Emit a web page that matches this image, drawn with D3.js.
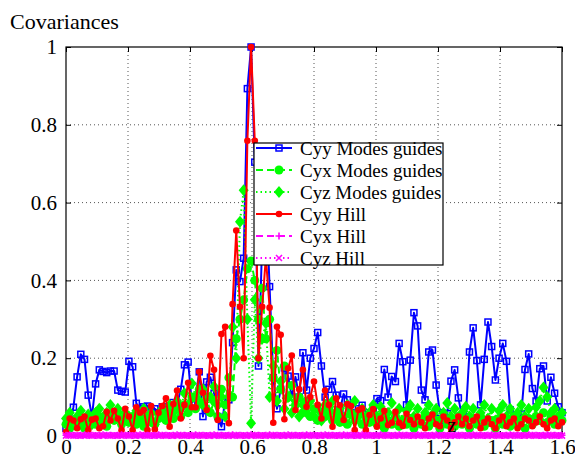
<!DOCTYPE html>
<html><head><meta charset="utf-8">
<script src="https://cdn.jsdelivr.net/npm/d3@7"></script>
<style>body{margin:0;background:#fff}svg{display:block}
svg text{font-family:"Liberation Serif","Times New Roman",Times,"DejaVu Serif",serif;}</style>
</head><body>
<svg id="c" width="575" height="462"></svg>
<script>
// ---- data ----
const xStart = 0, xEnd = 1.6, nPts = 135;   // sampling grid along z
const xTickValues = [0,0.2,0.4,0.6,0.8,1,1.2,1.4,1.6];
const xTickLabels = ["0","0.2","0.4","0.6","0.8","1","1.2","1.4","1.6"];
const yTickValues = [0,0.2,0.4,0.6,0.8,1];
const yTickLabels = ["0","0.2","0.4","0.6","0.8","1"];
const seriesNames = ["Cyy Modes guides","Cyx Modes guides","Cyz Modes guides","Cyy Hill","Cyx Hill","Cyz Hill"];

const cyyModes = [0.02,0.03,0.074,0.152,0.21,0.197,0.105,0.05,0.134,0.17,0.166,0.163,0.167,0.167,0.118,0.115,0.113,0.192,0.178,0.084,
0.07,0.075,0.077,0.065,0.07,0.06,0.075,0.065,0.07,0.086,0.08,0.12,0.183,0.19,0.085,0.1,0.165,0.05,0.139,0.151,
0.11,0.05,0.024,0.093,0.093,0.24,0.427,0.397,0.457,0.893,1.0,0.704,0.18,0.5,0.62,0.384,0.15,0.07,0.12,0.175,
0.154,0.1,0.152,0.1,0.214,0.118,0.2,0.225,0.266,0.18,0.1,0.12,0.14,0.105,0.067,0.108,0.093,0.06,0.05,0.07,
0.079,0.06,0.05,0.07,0.096,0.091,0.171,0.1,0.153,0.14,0.238,0.191,0.08,0.195,0.317,0.283,0.118,0.093,0.216,0.221,
0.131,0.06,0.04,0.058,0.141,0.17,0.098,0.05,0.05,0.216,0.278,0.194,0.08,0.197,0.293,0.23,0.144,0.2,0.238,0.192,
0.067,0.05,0.05,0.057,0.171,0.211,0.122,0.09,0.173,0.18,0.09,0.151,0.11,0.075,0.06];

const cyxModes = [0.03,0.02,0.04,0.025,0.035,0.02,0.03,0.045,0.03,0.05,0.035,0.025,0.055,0.04,0.06,0.03,0.045,0.035,0.05,0.03,
0.04,0.025,0.05,0.035,0.03,0.045,0.055,0.04,0.06,0.045,0.07,0.05,0.08,0.06,0.1,0.07,0.12,0.08,0.1,0.06,
0.09,0.05,0.12,0.08,0.15,0.1,0.25,0.3,0.35,0.43,0.45,0.4,0.3,0.38,0.25,0.3,0.15,0.22,0.12,0.18,
0.1,0.13,0.08,0.1,0.06,0.09,0.05,0.07,0.04,0.06,0.05,0.07,0.04,0.06,0.035,0.05,0.03,0.055,0.04,0.06,
0.03,0.05,0.035,0.045,0.03,0.05,0.02,0.04,0.03,0.05,0.025,0.04,0.03,0.045,0.02,0.04,0.03,0.05,0.025,0.035,
0.04,0.02,0.045,0.03,0.04,0.025,0.05,0.03,0.04,0.02,0.045,0.03,0.05,0.025,0.035,0.04,0.02,0.045,0.03,0.04,
0.025,0.05,0.03,0.04,0.02,0.045,0.03,0.05,0.04,0.06,0.035,0.05,0.03,0.045,0.04];

const cyzModes = [0.045,0.06,0.03,0.05,0.065,0.04,0.055,0.03,0.06,0.07,0.045,0.06,0.08,0.05,0.07,0.04,0.06,0.05,0.035,0.065,
0.05,0.07,0.04,0.06,0.03,0.055,0.07,0.05,0.08,0.06,0.09,0.07,0.11,0.08,0.135,0.1,0.09,0.12,0.07,0.1,
0.127,0.08,0.1,0.05,0.1,0.28,0.2,0.551,0.632,0.3,0.033,0.35,0.2,0.25,0.29,0.1,0.18,0.09,0.14,0.07,
0.1,0.06,0.09,0.05,0.08,0.06,0.09,0.05,0.07,0.04,0.08,0.06,0.09,0.05,0.07,0.04,0.08,0.06,0.09,0.05,
0.07,0.04,0.06,0.08,0.05,0.075,0.035,0.06,0.085,0.05,0.07,0.04,0.065,0.08,0.05,0.07,0.035,0.06,0.08,0.055,
0.07,0.04,0.06,0.085,0.05,0.07,0.04,0.06,0.075,0.05,0.07,0.04,0.06,0.08,0.045,0.07,0.04,0.065,0.08,0.05,
0.07,0.035,0.06,0.08,0.05,0.07,0.04,0.074,0.09,0.125,0.1,0.06,0.07,0.05,0.06];

const cyyHill = [0.01,0.045,0.04,0.02,0.043,0.05,0.015,0.042,0.045,0.02,0.025,0.062,0.04,0.065,0.045,0.015,0.07,0.05,0.015,0.074,
0.06,0.067,0.015,0.077,0.017,0.06,0.077,0.097,0.024,0.082,0.117,0.045,0.08,0.137,0.074,0.074,0.165,0.111,0.067,0.206,
0.17,0.041,0.262,0.281,0.033,0.339,0.528,0.332,0.2,0.759,1.0,0.759,0.2,0.332,0.46,0.33,0.034,0.281,0.26,0.043,
0.174,0.207,0.067,0.12,0.17,0.075,0.1,0.14,0.08,0.045,0.117,0.08,0.024,0.097,0.079,0.041,0.082,0.077,0.015,0.067,
0.071,0.015,0.054,0.069,0.024,0.045,0.065,0.028,0.034,0.062,0.034,0.026,0.057,0.041,0.03,0.05,0.035,0.02,0.045,0.055,
0.03,0.025,0.05,0.04,0.02,0.035,0.05,0.03,0.045,0.025,0.04,0.05,0.02,0.035,0.045,0.03,0.02,0.04,0.05,0.025,
0.035,0.045,0.02,0.03,0.045,0.04,0.025,0.035,0.05,0.03,0.02,0.04,0.045,0.025,0.035];

const cyxHill = [0.002,0.003,0.002,0.001,0.002,0.003,0.002,0.002,0.001,0.002,0.003,0.002,0.002,0.001,0.002,0.003,0.002,0.002,0.001,0.002,
0.003,0.002,0.002,0.001,0.002,0.003,0.002,0.002,0.001,0.002,0.003,0.002,0.002,0.001,0.002,0.003,0.002,0.002,0.001,0.002,
0.003,0.002,0.002,0.001,0.002,0.003,0.002,0.002,0.001,0.002,0.003,0.002,0.002,0.001,0.002,0.003,0.002,0.002,0.001,0.002,
0.003,0.002,0.002,0.001,0.002,0.003,0.002,0.002,0.001,0.002,0.003,0.002,0.002,0.001,0.002,0.003,0.002,0.002,0.001,0.002,
0.003,0.002,0.002,0.001,0.002,0.003,0.002,0.002,0.001,0.002,0.003,0.002,0.002,0.001,0.002,0.003,0.002,0.002,0.001,0.002,
0.003,0.002,0.002,0.001,0.002,0.003,0.002,0.002,0.001,0.002,0.003,0.002,0.002,0.001,0.002,0.003,0.002,0.002,0.001,0.002,
0.003,0.002,0.002,0.001,0.002,0.003,0.002,0.002,0.001,0.002,0.003,0.002,0.002,0.001,0.002];

const cyzHill = [0.001,0.002,0.001,0.002,0.001,0.001,0.002,0.001,0.002,0.001,0.001,0.002,0.001,0.002,0.001,0.001,0.002,0.001,0.002,0.001,
0.001,0.002,0.001,0.002,0.001,0.001,0.002,0.001,0.002,0.001,0.001,0.002,0.001,0.002,0.001,0.001,0.002,0.001,0.002,0.001,
0.001,0.002,0.001,0.002,0.001,0.001,0.002,0.001,0.002,0.001,0.001,0.002,0.001,0.002,0.001,0.001,0.002,0.001,0.002,0.001,
0.001,0.002,0.001,0.002,0.001,0.001,0.002,0.001,0.002,0.001,0.001,0.002,0.001,0.002,0.001,0.001,0.002,0.001,0.002,0.001,
0.001,0.002,0.001,0.002,0.001,0.001,0.002,0.001,0.002,0.001,0.001,0.002,0.001,0.002,0.001,0.001,0.002,0.001,0.002,0.001,
0.001,0.002,0.001,0.002,0.001,0.001,0.002,0.001,0.002,0.001,0.001,0.002,0.001,0.002,0.001,0.001,0.002,0.001,0.002,0.001,
0.001,0.002,0.001,0.002,0.001,0.001,0.002,0.001,0.002,0.001,0.001,0.002,0.001,0.002,0.001];

// ---- drawing ----
const svg = d3.select("#c");
const font = '"Liberation Serif","Times New Roman",Times,"DejaVu Serif",serif';
const L = 66, R = 562, T = 47, B = 436;
const x = d3.scaleLinear().domain([xStart, xEnd]).range([L, R]);
const y = d3.scaleLinear().domain([0, 1]).range([B, T]);
const zs = d3.range(nPts).map(i => xStart + i * (xEnd - xStart) / (nPts - 1));

// grid
const grid = svg.append("g").attr("stroke", "#555").attr("stroke-width", 1).attr("stroke-dasharray", "1,3");
xTickValues.slice(1, -1).forEach(v => grid.append("line").attr("x1", x(v)).attr("x2", x(v)).attr("y1", T).attr("y2", B));
yTickValues.slice(1, -1).forEach(v => grid.append("line").attr("y1", y(v)).attr("y2", y(v)).attr("x1", L).attr("x2", R));

// axes with inward ticks
const fmtX = (d, i) => xTickLabels[i], fmtY = (d, i) => yTickLabels[i];
const gx = svg.append("g").attr("transform", `translate(0,${B})`)
  .call(d3.axisBottom(x).tickValues(xTickValues).tickFormat(fmtX).tickSize(-5).tickPadding(4));
const gxt = svg.append("g").attr("transform", `translate(0,${T})`)
  .call(d3.axisTop(x).tickValues(xTickValues).tickFormat("").tickSize(-5));
const gy = svg.append("g").attr("transform", `translate(${L},0)`)
  .call(d3.axisLeft(y).tickValues(yTickValues).tickFormat(fmtY).tickSize(-5).tickPadding(9));
const gyr = svg.append("g").attr("transform", `translate(${R},0)`)
  .call(d3.axisRight(y).tickValues(yTickValues).tickFormat("").tickSize(-5));
[gx, gxt, gy, gyr].forEach(g => {
  g.attr("font-family", null);
  g.select(".domain").remove();
  g.selectAll("line").attr("stroke", "#000");
  g.selectAll("text").style("font-family", font).attr("font-size", 21).attr("fill", "#000");
});
gx.selectAll("text").attr("dy", "0.68em");
svg.append("rect").attr("x", L).attr("y", T).attr("width", R - L).attr("height", B - T)
  .attr("fill", "none").attr("stroke", "#000").attr("stroke-width", 1.2);

// series
const series = [
  {name: seriesNames[0], data: cyyModes, color: "#0000ff", dash: null, marker: "square"},
  {name: seriesNames[1], data: cyxModes, color: "#00ff00", dash: "7,4", marker: "circle"},
  {name: seriesNames[2], data: cyzModes, color: "#00ff00", dash: "1.5,3", marker: "diamond"},
  {name: seriesNames[3], data: cyyHill, color: "#ff0000", dash: null, marker: "dot"},
  {name: seriesNames[4], data: cyxHill, color: "#ff00ff", dash: "7,4", marker: "plus"},
  {name: seriesNames[5], data: cyzHill, color: "#ff00ff", dash: "1.5,3", marker: "cross"}
];

function drawMarker(g, type, cx, cy, color) {
  if (type === "square") {
    g.append("rect").attr("x", cx - 3).attr("y", cy - 3).attr("width", 6).attr("height", 6)
      .attr("fill", "none").attr("stroke", color).attr("stroke-width", 1.5);
  } else if (type === "circle") {
    g.append("circle").attr("cx", cx).attr("cy", cy).attr("r", 4.5).attr("fill", color);
  } else if (type === "diamond") {
    g.append("path").attr("d", `M${cx},${cy - 6}L${cx + 5},${cy}L${cx},${cy + 6}L${cx - 5},${cy}Z`).attr("fill", color);
  } else if (type === "dot") {
    g.append("circle").attr("cx", cx).attr("cy", cy).attr("r", 3.3).attr("fill", color);
  } else if (type === "plus") {
    g.append("path").attr("d", `M${cx - 3.5},${cy}H${cx + 3.5}M${cx},${cy - 3.5}V${cy + 3.5}`)
      .attr("stroke", color).attr("stroke-width", 1.6).attr("fill", "none");
  } else if (type === "cross") {
    g.append("path").attr("d", `M${cx - 3},${cy - 3}L${cx + 3},${cy + 3}M${cx - 3},${cy + 3}L${cx + 3},${cy - 3}`)
      .attr("stroke", color).attr("stroke-width", 1.6).attr("fill", "none");
  }
}

const line = d3.line().x((d, i) => x(zs[i])).y(d => y(d));
series.forEach(s => {
  const g = svg.append("g");
  g.append("path").attr("d", line(s.data)).attr("fill", "none").attr("stroke", s.color)
    .attr("stroke-width", 2).attr("stroke-dasharray", s.dash).attr("stroke-linejoin", "round");
  s.data.forEach((v, i) => drawMarker(g, s.marker, x(zs[i]), y(v), s.color));
});

// legend
const lg = svg.append("g");
lg.append("rect").attr("x", 254).attr("y", 143).attr("width", 189).attr("height", 122)
  .attr("fill", "#fff").attr("stroke", "#000").attr("stroke-width", 1.2);
series.forEach((s, k) => {
  const cy = 148 + k * 22;
  lg.append("line").attr("x1", 256).attr("x2", 292).attr("y1", cy).attr("y2", cy)
    .attr("stroke", s.color).attr("stroke-width", 2).attr("stroke-dasharray", s.dash);
  drawMarker(lg, s.marker, 279, cy, s.color);
  lg.append("text").attr("x", 300).attr("y", cy).attr("dy", "0.35em").style("font-family", font)
    .attr("font-size", 19).attr("fill", "#000").text(s.name);
});

// title and stray axis label
svg.append("text").attr("x", 10).attr("y", 29).style("font-family", font).attr("font-size", 22).text("Covariances");
svg.append("text").attr("x", 452).attr("y", 432).attr("text-anchor", "middle").style("font-family", font).attr("font-size", 20).text("z");
</script>
</body></html>
